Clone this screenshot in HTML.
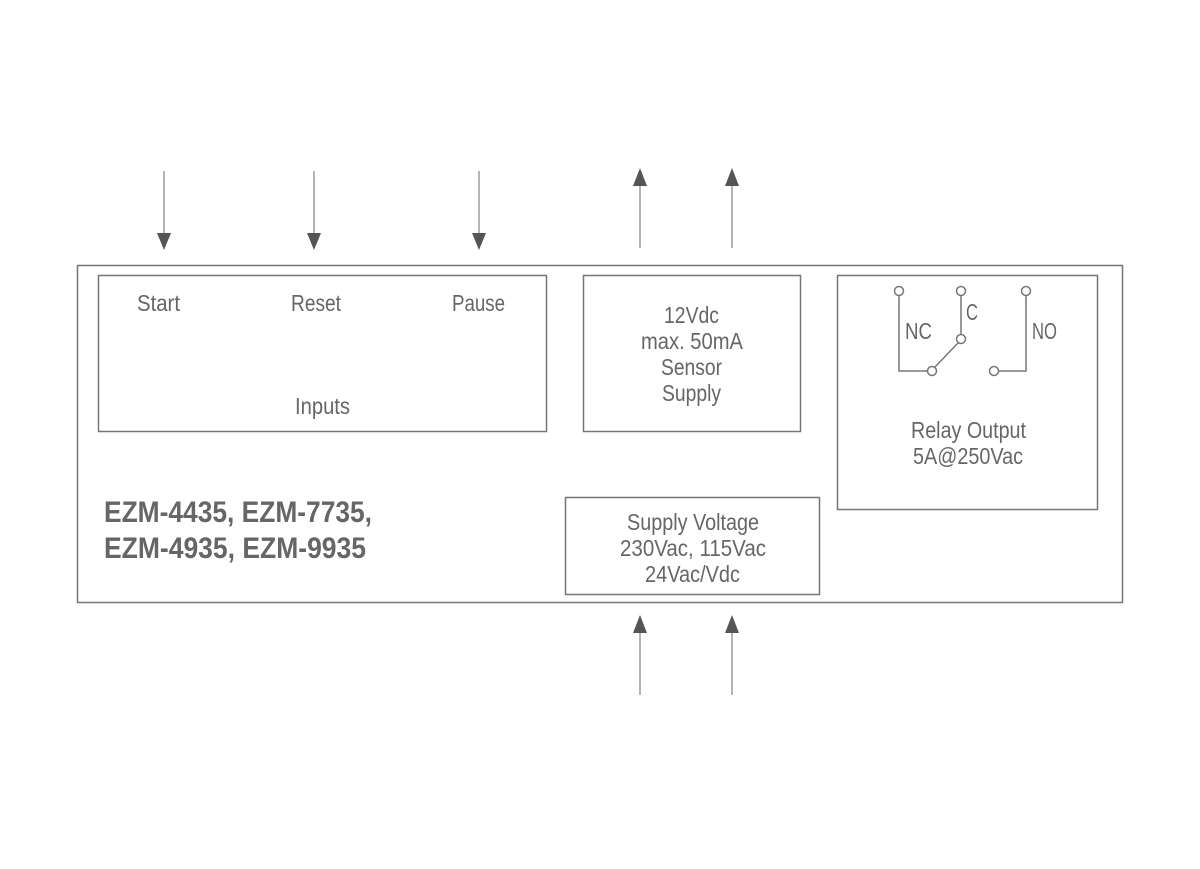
<!DOCTYPE html>
<html><head><meta charset="utf-8"><style>html,body{margin:0;padding:0;background:#fff}</style></head><body>
<svg width="1200" height="864" viewBox="0 0 1200 864" xmlns="http://www.w3.org/2000/svg" font-family="Liberation Sans, sans-serif">
<rect width="1200" height="864" fill="#fff"/>
<g stroke="#9a9a9a" stroke-width="1.5">
<line x1="164" y1="171" x2="164" y2="236"/>
<line x1="314" y1="171" x2="314" y2="236"/>
<line x1="479" y1="171" x2="479" y2="236"/>
<line x1="640" y1="248" x2="640" y2="184"/>
<line x1="732" y1="248" x2="732" y2="184"/>
<line x1="640" y1="695" x2="640" y2="631"/>
<line x1="732" y1="695" x2="732" y2="631"/>
</g>
<g fill="#555">
<polygon points="157,233 171,233 164,250"/>
<polygon points="307,233 321,233 314,250"/>
<polygon points="472,233 486,233 479,250"/>
<polygon points="633,186 647,186 640,168"/>
<polygon points="725,186 739,186 732,168"/>
<polygon points="633,633 647,633 640,615"/>
<polygon points="725,633 739,633 732,615"/>
</g>
<g fill="none" stroke="#777" stroke-width="1.5">
<rect x="77.5" y="265.5" width="1045" height="337"/>
<rect x="98.5" y="275.5" width="448" height="156"/>
<rect x="583.5" y="275.5" width="217" height="156"/>
<rect x="837.5" y="275.5" width="260" height="234"/>
<rect x="565.5" y="497.5" width="254" height="97"/>
<polyline points="899,296 899,371 927,371"/>
<line x1="961" y1="296" x2="961" y2="334"/>
<line x1="935" y1="367" x2="958" y2="343"/>
<polyline points="999,371 1026,371 1026,296"/>
<circle cx="899" cy="291" r="4.5" fill="#fff"/>
<circle cx="961" cy="291" r="4.5" fill="#fff"/>
<circle cx="1026" cy="291" r="4.5" fill="#fff"/>
<circle cx="961" cy="339" r="4.5" fill="#fff"/>
<circle cx="932" cy="371" r="4.5" fill="#fff"/>
<circle cx="994" cy="371" r="4.5" fill="#fff"/>
</g>
<g fill="#666" font-size="23">
<text x="137" y="311" textLength="43" lengthAdjust="spacingAndGlyphs">Start</text>
<text x="291" y="311" textLength="50" lengthAdjust="spacingAndGlyphs">Reset</text>
<text x="452" y="311" textLength="53" lengthAdjust="spacingAndGlyphs">Pause</text>
<text x="295" y="414" textLength="55" lengthAdjust="spacingAndGlyphs">Inputs</text>
<text x="664" y="323" textLength="55" lengthAdjust="spacingAndGlyphs">12Vdc</text>
<text x="641" y="349" textLength="102" lengthAdjust="spacingAndGlyphs">max. 50mA</text>
<text x="661" y="375" textLength="61" lengthAdjust="spacingAndGlyphs">Sensor</text>
<text x="662" y="401" textLength="59" lengthAdjust="spacingAndGlyphs">Supply</text>
<text x="911" y="438" textLength="115" lengthAdjust="spacingAndGlyphs">Relay Output</text>
<text x="913" y="464" textLength="110" lengthAdjust="spacingAndGlyphs">5A@250Vac</text>
<text x="627" y="530" textLength="132" lengthAdjust="spacingAndGlyphs">Supply Voltage</text>
<text x="620" y="556" textLength="146" lengthAdjust="spacingAndGlyphs">230Vac, 115Vac</text>
<text x="645" y="582" textLength="95" lengthAdjust="spacingAndGlyphs">24Vac/Vdc</text>
<text x="905" y="339" textLength="27" lengthAdjust="spacingAndGlyphs">NC</text>
<text x="966" y="320" textLength="12" lengthAdjust="spacingAndGlyphs">C</text>
<text x="1032" y="339" textLength="25" lengthAdjust="spacingAndGlyphs">NO</text>
<text x="104" y="522" font-size="30" font-weight="bold" textLength="268" lengthAdjust="spacingAndGlyphs">EZM-4435, EZM-7735,</text>
<text x="104" y="558" font-size="30" font-weight="bold" textLength="262" lengthAdjust="spacingAndGlyphs">EZM-4935, EZM-9935</text>
</g>
</svg>
</body></html>
